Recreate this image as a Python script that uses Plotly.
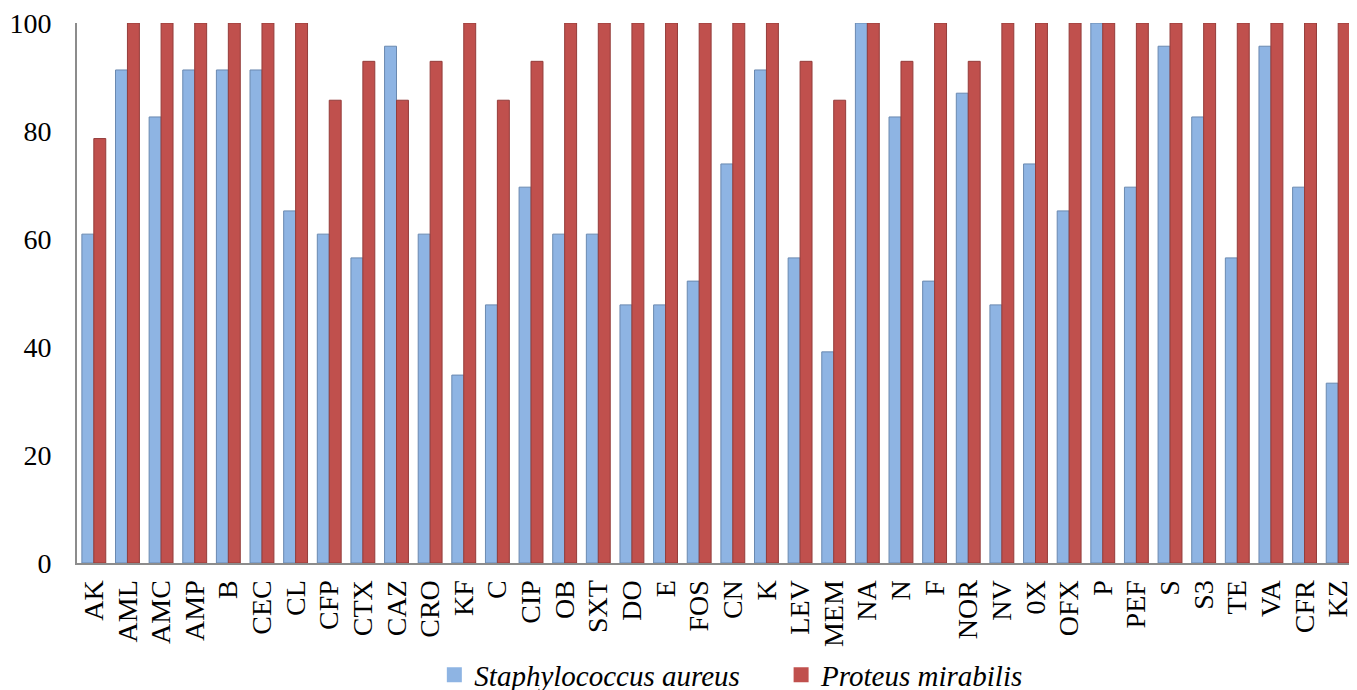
import plotly.graph_objects as go

categories = ["AK", "AML", "AMC", "AMP", "B", "CEC", "CL", "CFP", "CTX", "CAZ", "CRO", "KF", "C", "CIP",
              "OB", "SXT", "DO", "E", "FOS", "CN", "K", "LEV", "MEM", "NA", "N", "F", "NOR", "NV", "0X",
              "OFX", "P", "PEF", "S", "S3", "TE", "VA", "CFR", "KZ"]

staph = [60.9, 91.3, 82.6, 91.3, 91.3, 91.3, 65.2, 60.9, 56.5, 95.7, 60.9, 34.8, 47.8, 69.6,
         60.9, 60.9, 47.8, 47.8, 52.2, 73.9, 91.3, 56.5, 39.1, 100, 82.6, 52.2, 87.0, 47.8, 73.9,
         65.2, 100, 69.6, 95.7, 82.6, 56.5, 95.7, 69.6, 33.3]

proteus = [78.6, 100, 100, 100, 100, 100, 100, 85.7, 92.9, 85.7, 92.9, 100, 85.7, 92.9,
           100, 100, 100, 100, 100, 100, 100, 92.9, 85.7, 100, 92.9, 100, 92.9, 100, 100,
           100, 100, 100, 100, 100, 100, 100, 100, 100]

y_ticks = [0, 20, 40, 60, 80, 100]

FONT = "Liberation Serif, Times New Roman, serif"
BLUE = "#8EB4E3"
RED = "#C0504D"
NBSP = "\u00a0"

fig = go.Figure()
fig.add_trace(go.Bar(x=categories, y=staph, showlegend=False,
                     marker=dict(color=BLUE, line=dict(color="#6A89B0", width=1))))
fig.add_trace(go.Bar(x=categories, y=proteus, showlegend=False,
                     marker=dict(color=RED, line=dict(color="#943C3A", width=1))))
# legend entries with square symbols
fig.add_trace(go.Scatter(x=[None], y=[None], mode="markers",
                         name="<i>Staphylococcus aureus</i>" + NBSP * 5,
                         marker=dict(symbol="square", size=15, color=BLUE)))
fig.add_trace(go.Scatter(x=[None], y=[None], mode="markers", name="<i>Proteus mirabilis</i>",
                         marker=dict(symbol="square", size=15, color=RED)))

fig.update_layout(
    width=1357, height=690,
    margin=dict(l=69, r=10, t=15, b=135, autoexpand=False),
    paper_bgcolor="white", plot_bgcolor="white",
    barmode="group", bargap=0.29, bargroupgap=0.0,
    font=dict(family=FONT, size=28, color="black"),
    showlegend=True,
    legend=dict(orientation="h", x=0.512, xanchor="center", y=-0.207, yanchor="middle",
                bgcolor="rgba(0,0,0,0)",
                font=dict(family=FONT, size=29), itemwidth=30, tracegroupgap=0),
    xaxis=dict(tickangle=-90, showline=True, linecolor="#8C8C8C", linewidth=2,
               showgrid=False, ticks="", automargin=False, ticklabelstandoff=4,
               tickmode="array", tickvals=categories, ticktext=categories,
               ticklabeloverflow="allow",
               tickfont=dict(family=FONT, size=28)),
    yaxis=dict(range=[0, 100], tickvals=y_ticks, showline=True, linecolor="#8C8C8C", linewidth=2,
               showgrid=False, ticks="", zeroline=False, automargin=False, ticklabelstandoff=18,
               ticklabeloverflow="allow",
               tickfont=dict(family=FONT, size=28)),
)

fig.write_html("out.html")
